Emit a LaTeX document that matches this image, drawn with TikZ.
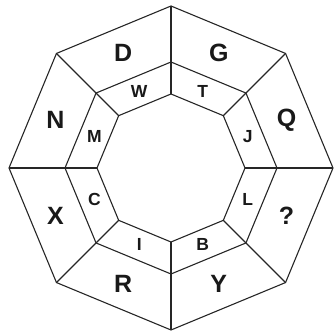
\documentclass[tikz,border=0pt]{standalone}
\usepackage{fontspec}
\setmainfont{Liberation Sans}
\begin{document}
\begin{tikzpicture}[x=1pt, y=1pt, line width=1.1pt, draw=black!85,
  bigletter/.style={font=\fontsize{25}{25}\selectfont\bfseries, text=black!90},
  smallletter/.style={font=\fontsize{17.5}{17.5}\selectfont\bfseries, text=black!90}]
\useasboundingbox (-171,-168) rectangle (162,168);
% three octagons
\foreach \r in {74,106,162}
  \draw (0:\r) -- (45:\r) -- (90:\r) -- (135:\r) -- (180:\r)
        -- (225:\r) -- (270:\r) -- (315:\r) -- cycle;
% spokes
\foreach \a in {0,45,...,315}
  \draw (\a:74) -- (\a:162);
% outer ring
\foreach \a/\t [count=\i] in {112.5/D, 67.5/G, 22.5/Q, -22.5/?, -67.5/Y, -112.5/R, -157.5/X, 157.5/N}
  \node[bigletter] (out\i) at (\a:125) {\t};
% middle ring
\foreach \a/\t [count=\i] in {112.5/W, 67.5/T, 22.5/J, -22.5/L, -67.5/B, -112.5/I, -157.5/C, 157.5/M}
  \node[smallletter] (mid\i) at (\a:83) {\t};
\end{tikzpicture}
\end{document}
